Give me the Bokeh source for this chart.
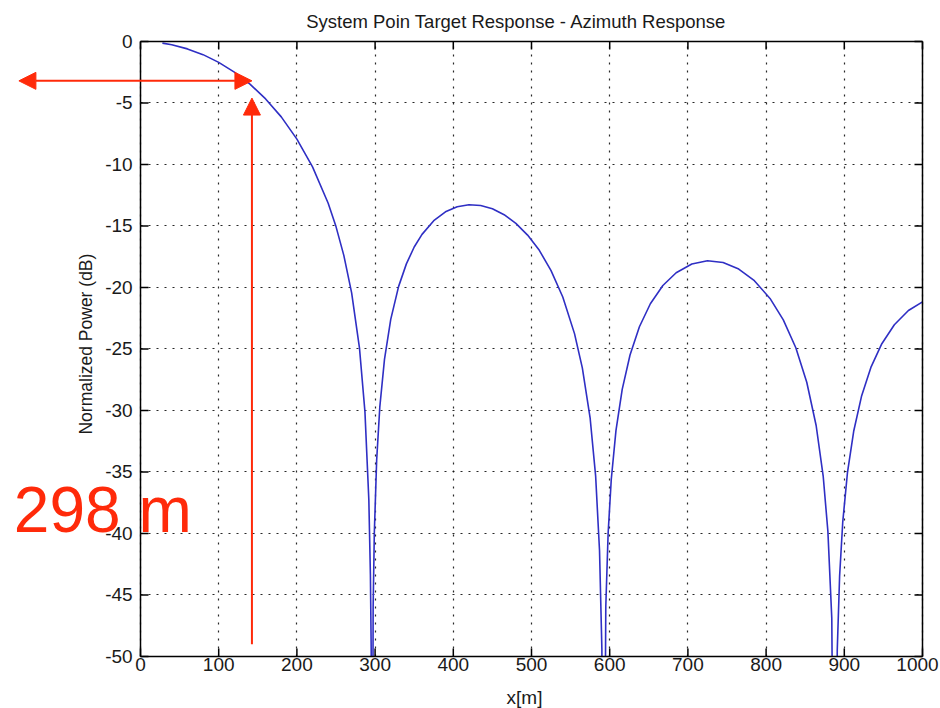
import math

from bokeh.plotting import figure
from bokeh.models import Arrow, NormalHead, Label, FixedTicker, Range1d, Grid
from bokeh.core.properties import value
from bokeh.embed import file_html
from bokeh.resources import INLINE

# Azimuth point-target response: along-track position (m) and normalized power (dB)
x_m = [28, 40, 60, 80, 100, 120, 140, 160, 180, 200,
       220, 240, 250, 260, 270, 280, 287, 292, 294, 295,
       296, 297.5, 299, 302, 306, 312, 320, 330, 340, 350,
       360, 375, 390, 405, 420, 435, 450, 465, 480, 495,
       510, 525, 540, 555, 565, 575, 582, 587, 590, 592,
       595, 598, 602, 608, 616, 626, 638, 652, 668, 685,
       705, 725, 745, 765, 785, 805, 822, 838, 852, 864,
       873, 879, 884, 888, 891, 894, 898, 904, 912, 922,
       934, 948, 964, 982, 1000]
power_db = [-0.13, -0.26, -0.60, -1.07, -1.70, -2.49, -3.47, -4.67, -6.13, -7.94,
            -10.19, -13.15, -15.05, -17.39, -20.44, -24.90, -30.09, -37.28, -43.35, -49.40,
            -80.0, -45.95, -39.97, -34.04, -29.73, -25.84, -22.59, -19.93, -18.08, -16.71,
            -15.68, -14.57, -13.85, -13.43, -13.27, -13.33, -13.60, -14.08, -14.79, -15.74,
            -16.98, -18.63, -20.77, -23.75, -26.53, -30.63, -35.31, -41.40, -49.40, -80.0,
            -45.95, -39.97, -35.61, -31.64, -28.28, -25.49, -23.19, -21.32, -19.84, -18.80,
            -18.09, -17.83, -17.97, -18.50, -19.45, -20.89, -22.63, -24.90, -27.70, -31.22,
            -35.33, -39.81, -46.89, -80.0, -49.46, -43.47, -39.08, -35.08, -31.69, -28.85,
            -26.50, -24.57, -23.03, -21.87, -21.17]

x_ticks = [0, 100, 200, 300, 400, 500, 600, 700, 800, 900, 1000]
x_tick_labels = [str(t) for t in x_ticks]
y_ticks = [-50, -45, -40, -35, -30, -25, -20, -15, -10, -5, 0]
y_tick_labels = [str(t) for t in y_ticks]

title_text = "System Poin Target Response - Azimuth Response"
x_label = "x[m]"
y_label = "Normalized Power (dB)"

# resolution marker: 298 m wide span ending at the half-power point
beam_width_m = 298
half_power_x = 142.5
half_power_db = -3.2

FONT = "Liberation Sans"
RED = "#ff2a0a"
INK = "#1a1a1a"
CURVE = "#2f2fc4"

x0, x1 = x_ticks[0], x_ticks[-1]
y0, y1 = y_ticks[0], y_ticks[-1]

# The plotting frame covers the whole page: the axes box spans 0..1000 m and
# -50..0 dB inside it, leaving room around it for labels and annotations.
p = figure(width=940, height=708,
           x_range=Range1d(-179.03, 1023.02), y_range=Range1d(-54.228, 3.333),
           x_axis_type=None, y_axis_type=None,
           output_backend="svg", toolbar_location=None,
           min_border_left=0, min_border_right=0, min_border_top=0, min_border_bottom=0)
p.background_fill_color = "white"
p.border_fill_color = "white"
p.outline_line_color = None

# dotted grid, limited to the box
grid_style = dict(grid_line_color="#111111", grid_line_dash="2 6",
                  grid_line_width=1.2, grid_line_alpha=0.9)
xgrid = Grid(dimension=0, ticker=FixedTicker(ticks=x_ticks), **grid_style)
ygrid = Grid(dimension=1, ticker=FixedTicker(ticks=y_ticks), **grid_style)
xgrid.cross_bounds = (y0, y1)
ygrid.cross_bounds = (x0, x1)
p.add_layout(xgrid)
p.add_layout(ygrid)

p.line(x_m, power_db, line_color=CURVE, line_width=1.6)

# white mask below the box hides the curve where it dips under -50 dB
p.quad(left=[x0], right=[x1], bottom=[-60], top=[y0], fill_color="white", line_color=None)

# box edges and inward ticks on all four sides
p.segment(x0=[x0, x1, x0, x0], y0=[y0, y0, y1, y0], x1=[x0, x1, x1, x1], y1=[y1, y1, y1, y0],
          line_color="black", line_width=1.5)
n_x, n_y = len(x_ticks), len(y_ticks)
tick_style = dict(length=8, length_units="screen", line_color="black", line_width=1.5)
p.ray(x=[x0] * n_y, y=y_ticks, angle=0, **tick_style)
p.ray(x=[x1] * n_y, y=y_ticks, angle=math.pi, **tick_style)
p.ray(x=x_ticks, y=[y1] * n_x, angle=-math.pi / 2, **tick_style)
p.ray(x=x_ticks, y=[y0] * n_x, angle=math.pi / 2, **tick_style)

text_style = dict(text_font=value(FONT), text_color=INK)

# tick labels; the last x label is nudged left so it stays on the page
p.text(x=[x0 - 10] * n_y, y=y_ticks, text=y_tick_labels, text_align="right",
       text_baseline="middle", text_font_size="19px", **text_style)
x_label_shift = [0] * (n_x - 1) + [-5]
p.text(x=x_ticks, y=[y0 - 0.16] * n_x, text=x_tick_labels, x_offset=x_label_shift,
       text_align="center", text_baseline="top", text_font_size="19px", **text_style)

# axis labels and title
p.text(x=[491], y=[-53.3], text=[x_label], text_align="center",
       text_baseline="alphabetic", text_font_size="19px", **text_style)
p.text(x=[-70.3], y=[-24.6], text=[y_label], angle=math.pi / 2,
       text_align="center", text_baseline="middle", text_font_size="17.5px", **text_style)
p.text(x=[480.8], y=[1.63], text=[title_text], text_align="center",
       text_baseline="alphabetic", text_font_size="18.5px", **text_style)

p.add_layout(Arrow(start=NormalHead(size=17, fill_color=RED, line_color=RED),
                   end=NormalHead(size=17, fill_color=RED, line_color=RED),
                   x_start=half_power_x - beam_width_m, y_start=half_power_db,
                   x_end=half_power_x, y_end=half_power_db,
                   line_color=RED, line_width=2))
p.add_layout(Arrow(end=NormalHead(size=17, fill_color=RED, line_color=RED),
                   x_start=half_power_x, y_start=-49.0,
                   x_end=half_power_x, y_end=-4.6,
                   line_color=RED, line_width=2))

p.add_layout(Label(x=-162, y=-38.05, text=f"{beam_width_m} m",
                   text_align="left", text_baseline="alphabetic",
                   text_font=FONT, text_font_size="64px", text_color=RED))

open("out.html", "w").write(file_html(p, INLINE))
